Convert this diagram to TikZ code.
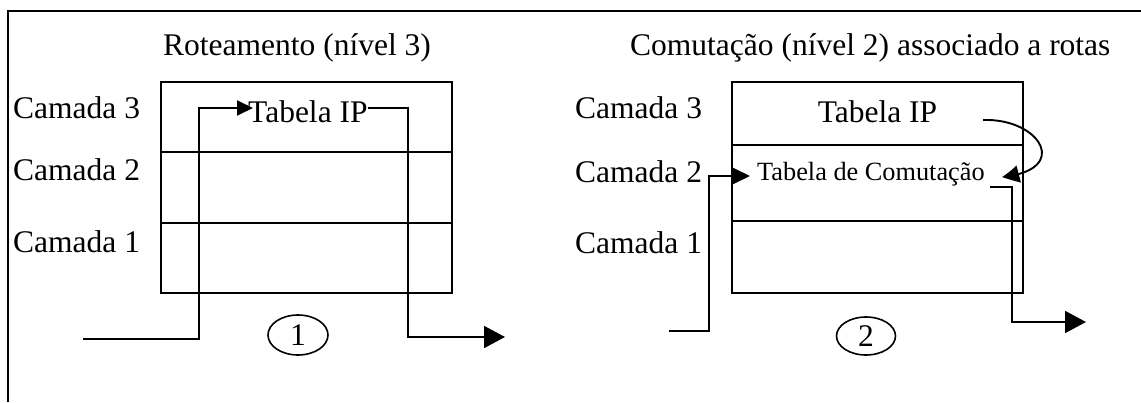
\documentclass[tikz,border=0pt]{standalone}
\usepackage{fontspec}
\setmainfont{Liberation Serif}
\usetikzlibrary{arrows.meta,shapes.geometric,bending}
\begin{document}
\begin{tikzpicture}[x=1pt,y=-1pt,
  line/.style={line width=1.9pt},
  big/.style={font=\fontsize{31.5}{36}\selectfont, inner sep=0pt},
  small/.style={font=\fontsize{26.3}{30}\selectfont, inner sep=0pt},
  headS/.style={-{Triangle[length=16pt,width=15pt]}},
  headL/.style={-{Triangle[length=21pt,width=22pt]}},
  num/.style={draw, ellipse, line width=1.6pt, inner sep=0pt, font=\fontsize{31.5}{36}\selectfont}
]
\useasboundingbox (0,0) rectangle (1141,402);
% frame
\draw[line] (8,402) -- (8,11) -- (1141,11);

% ---------- left panel ----------
\node[big, anchor=base west] (titL) at (163,55) {Roteamento (nível 3)};
\node[big, anchor=base west] (c3L) at (13,118) {Camada 3};
\node[big, anchor=base west] (c2L) at (13,180) {Camada 2};
\node[big, anchor=base west] (c1L) at (13,252) {Camada 1};
\draw[line] (161,82) rectangle (452,293);
\draw[line] (161,152) -- (452,152);
\draw[line] (161,223) -- (452,223);
\node[big, anchor=base west] (ipL) at (248,122) {Tabela IP};
\coordinate (inL) at (83,339);
\coordinate (tipL) at (253,108);
\coordinate (outL) at (505,337);
\draw[line, headS] (inL) -- (199,339) -- (199,108) -- (tipL);
\draw[line, headL] (ipL.east |- 0,108) -- (408,108) -- (408,337) -- (outL);
\node[num, minimum width=60pt, minimum height=40pt] (n1) at (298,335) {1};

% ---------- right panel ----------
\node[big, anchor=base west] (titR) at (630,55) {Comutação (nível 2) associado a rotas};
\node[big, anchor=base west] (c3R) at (575,118) {Camada 3};
\node[big, anchor=base west] (c2R) at (575,182) {Camada 2};
\node[big, anchor=base west] (c1R) at (575,253) {Camada 1};
\draw[line] (732,82) rectangle (1023,293);
\draw[line] (732,145) -- (1023,145);
\draw[line] (732,221) -- (1023,221);
\node[big, anchor=base] (ipR) at (877.5,122) {Tabela IP};
\node[small, anchor=base west] (tc) at (757,180) {Tabela de Comutação};
\coordinate (inR) at (669,331);
\coordinate (tipR) at (750,176);
\coordinate (outR) at (1086,322);
\coordinate (curS) at (983,120);
\coordinate (curE) at (1002,177);
\draw[line, -{Triangle[length=18pt,width=17pt]}] (inR) -- (709,331) -- (709,176) -- (tipR);
\draw[line, headL] (990,187) -- (1012,187) -- (1012,322) -- (outR);
\draw[line, -{Triangle[length=18pt,width=17pt,bend]}] (curS) .. controls (1040,118) and (1072,170) .. (curE);
\node[num, minimum width=59pt, minimum height=38pt] (n2) at (866,336) {2};
\end{tikzpicture}
\end{document}
